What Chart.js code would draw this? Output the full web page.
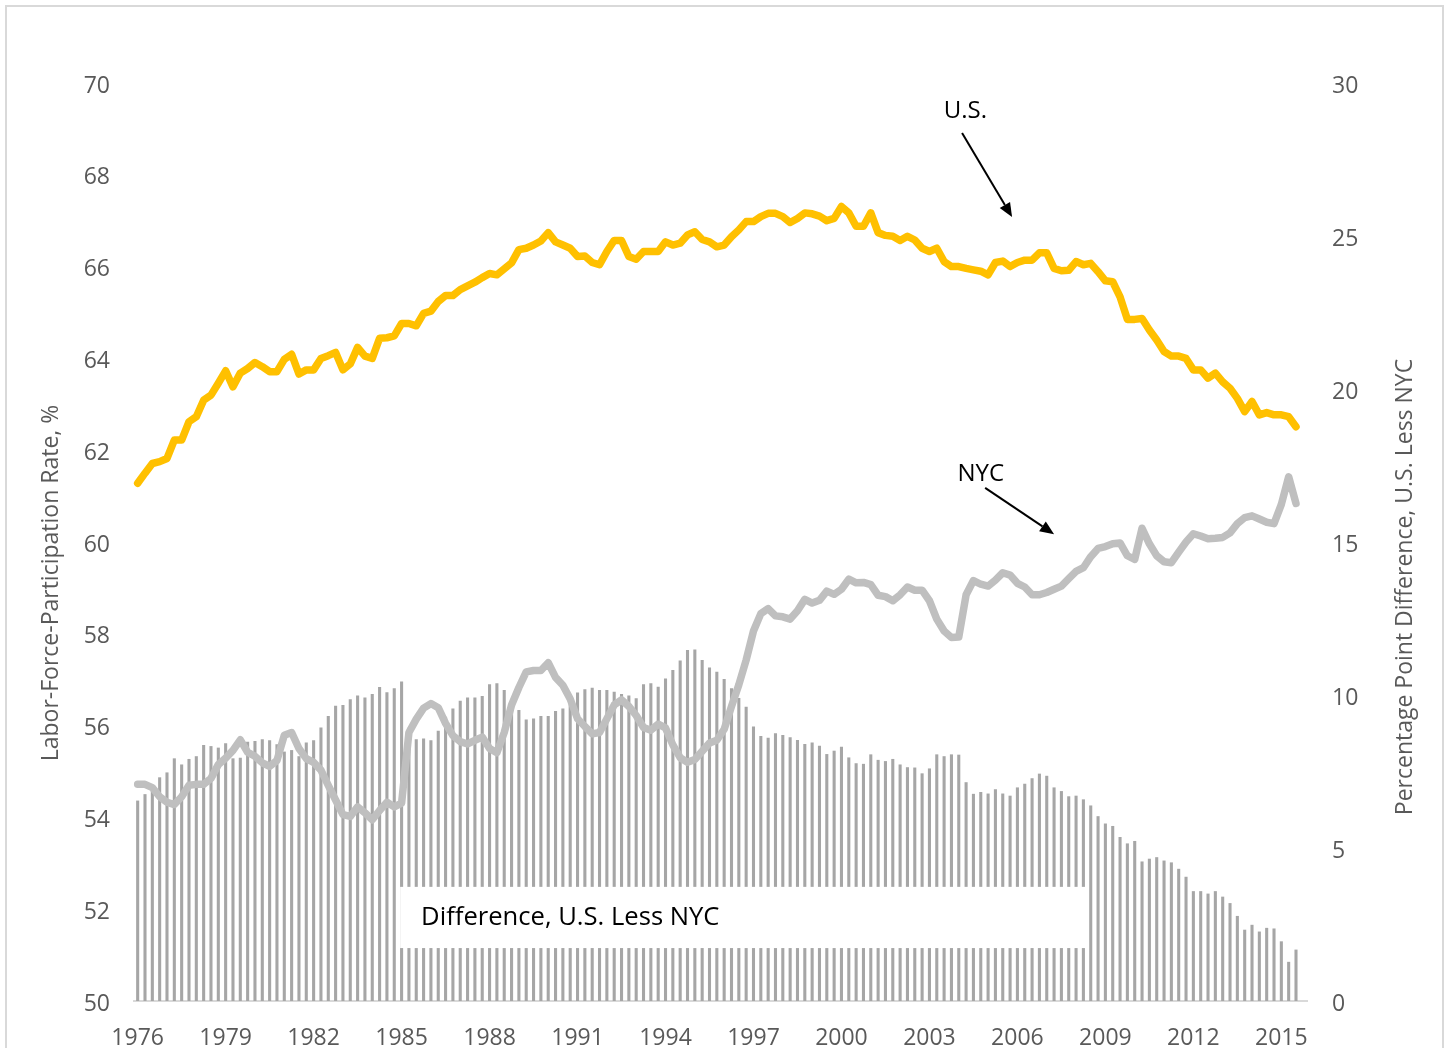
<!DOCTYPE html>
<html>
<head>
<meta charset="utf-8">
<script src="https://cdn.jsdelivr.net/npm/chart.js@4.4.0/dist/chart.umd.min.js"></script>
<style>
  html, body { margin: 0; padding: 0; background: #fff; }
  #frame { position: absolute; left: 5px; top: 5px; width: 1435px; height: 1100px; border: 2px solid #d9d9d9; }
  #chart { position: absolute; left: 0; top: 0; }
</style>
</head>
<body>
<div id="frame"></div>
<canvas id="chart" width="1449" height="1048"></canvas>
<script>
// quarterly, 1976Q1 .. 2015Q4 (the last quarter has no data yet)
const firstYear = 1976;
const quarterCount = 160;
const tickYears = ['1976', '1979', '1982', '1985', '1988', '1991', '1994', '1997',
  '2000', '2003', '2006', '2009', '2012', '2015'];

// labor-force-participation rate, %
const usRate = [
  61.28, 61.50, 61.71, 61.75, 61.82, 62.22, 62.22, 62.62, 62.73, 63.09,
  63.20, 63.46, 63.73, 63.38, 63.68, 63.78, 63.91, 63.82, 63.71, 63.71,
  63.98, 64.09, 63.66, 63.75, 63.75, 64.00, 64.06, 64.13, 63.75, 63.88,
  64.24, 64.05, 64.00, 64.44, 64.45, 64.49, 64.76, 64.76, 64.71, 64.98,
  65.03, 65.24, 65.37, 65.37, 65.50, 65.58, 65.66, 65.76, 65.85, 65.82,
  65.95, 66.08, 66.37, 66.40, 66.47, 66.56, 66.74, 66.54, 66.47, 66.40,
  66.22, 66.23, 66.09, 66.04, 66.33, 66.57, 66.57, 66.22, 66.16, 66.33,
  66.33, 66.33, 66.54, 66.47, 66.51, 66.69, 66.76, 66.59, 66.54, 66.43,
  66.47, 66.65, 66.80, 66.98, 66.98, 67.09, 67.16, 67.16, 67.09, 66.96,
  67.05, 67.17, 67.15, 67.10, 67.00, 67.05, 67.31, 67.17, 66.88, 66.88,
  67.17, 66.74, 66.68, 66.66, 66.57, 66.66, 66.58, 66.40, 66.33, 66.40,
  66.11, 66.00, 66.00, 65.96, 65.93, 65.90, 65.82, 66.09, 66.12, 66.00,
  66.09, 66.14, 66.14, 66.30, 66.30, 65.96, 65.91, 65.92, 66.11, 66.04,
  66.07, 65.89, 65.69, 65.67, 65.34, 64.85, 64.85, 64.87, 64.62, 64.40,
  64.15, 64.05, 64.05, 64.00, 63.75, 63.75, 63.57, 63.68, 63.49, 63.35,
  63.13, 62.84, 63.06, 62.77, 62.82, 62.77, 62.77, 62.73, 62.51
];
const nycRate = [
  54.72, 54.72, 54.65, 54.45, 54.33, 54.28, 54.45, 54.70, 54.72, 54.72,
  54.85, 55.15, 55.29, 55.46, 55.69, 55.42, 55.33, 55.19, 55.11, 55.24,
  55.79, 55.85, 55.50, 55.28, 55.20, 55.03, 54.70, 54.38, 54.06, 54.02,
  54.23, 54.10, 53.95, 54.15, 54.33, 54.23, 54.31, 55.85, 56.14, 56.38,
  56.48, 56.39, 56.05, 55.78, 55.65, 55.60, 55.68, 55.75, 55.50, 55.41,
  55.85, 56.45, 56.83, 57.17, 57.20, 57.20, 57.37, 57.05, 56.88, 56.58,
  56.15, 55.98, 55.82, 55.85, 56.15, 56.45, 56.56, 56.42, 56.22, 55.96,
  55.90, 56.03, 55.95, 55.58, 55.30, 55.20, 55.26, 55.44, 55.62, 55.68,
  55.92, 56.42, 56.89, 57.43, 58.06, 58.44, 58.55, 58.39, 58.37, 58.32,
  58.50, 58.75, 58.67, 58.73, 58.93, 58.86, 58.97, 59.19, 59.11, 59.12,
  59.07, 58.84, 58.81, 58.72, 58.85, 59.02, 58.95, 58.95, 58.72, 58.32,
  58.06, 57.92, 57.93, 58.85, 59.16, 59.08, 59.04, 59.17, 59.33, 59.28,
  59.10, 59.02, 58.85, 58.85, 58.90, 58.97, 59.04, 59.20, 59.36, 59.44,
  59.68, 59.86, 59.90, 59.96, 59.98, 59.70, 59.62, 60.30, 59.96, 59.70,
  59.57, 59.55, 59.78, 60.00, 60.18, 60.13, 60.07, 60.08, 60.10, 60.20,
  60.40, 60.53, 60.57, 60.50, 60.43, 60.40, 60.82, 61.42, 60.84
];
// percentage point difference, U.S. less NYC (right axis)
const usLessNyc = [
  6.55, 6.76, 7.04, 7.31, 7.47, 7.93, 7.73, 7.91, 8.00, 8.37,
  8.33, 8.28, 8.42, 7.93, 7.95, 8.47, 8.50, 8.55, 8.52, 8.39,
  8.15, 8.20, 8.00, 8.45, 8.52, 8.94, 9.31, 9.65, 9.67, 9.86,
  9.98, 9.92, 10.03, 10.26, 10.09, 10.22, 10.44, 8.93, 8.55, 8.58,
  8.52, 8.83, 9.29, 9.56, 9.81, 9.92, 9.92, 9.97, 10.35, 10.38,
  10.16, 9.55, 9.51, 9.20, 9.23, 9.31, 9.31, 9.48, 9.56, 9.75,
  10.08, 10.19, 10.24, 10.16, 10.16, 10.11, 10.03, 9.98, 9.89, 10.35,
  10.38, 10.27, 10.54, 10.82, 11.13, 11.47, 11.49, 11.14, 10.90, 10.76,
  10.52, 10.22, 9.90, 9.62, 8.97, 8.66, 8.60, 8.75, 8.69, 8.62,
  8.53, 8.40, 8.45, 8.34, 8.07, 8.18, 8.31, 7.96, 7.77, 7.75,
  8.06, 7.88, 7.84, 7.91, 7.73, 7.64, 7.63, 7.44, 7.60, 8.06,
  8.00, 8.06, 8.05, 7.15, 6.77, 6.83, 6.78, 6.92, 6.78, 6.71,
  6.98, 7.10, 7.28, 7.43, 7.36, 6.98, 6.86, 6.69, 6.71, 6.59,
  6.39, 6.04, 5.80, 5.72, 5.36, 5.15, 5.23, 4.56, 4.65, 4.70,
  4.59, 4.53, 4.32, 4.06, 3.59, 3.59, 3.51, 3.59, 3.41, 3.20,
  2.78, 2.33, 2.49, 2.27, 2.39, 2.37, 1.95, 1.28, 1.68
];

const quarters = [];
for (let i = 0; i < quarterCount; i++) {
  quarters.push((firstYear + Math.floor(i / 4)) + 'Q' + (i % 4 + 1));
}

const greyText = '#595959';
const tickFont = { family: 'Open Sans', size: 23 };

// annotation positions in data units (x = quarter index)
const notes = {
  box: { x0: 35.8, x1: 129.5, y0: 3.73, y1: 1.73, inset: 21, text: 'Difference, U.S. Less NYC' },
  arrows: [
    { text: 'U.S.', tx: 112.9, ty: 69.38, from: [112.45, 68.91], to: [119.27, 67.08] },
    { text: 'NYC', tx: 115.0, ty: 61.48, from: [115.6, 61.18], to: [125.0, 60.17] }
  ]
};

const axisTitles = {
  id: 'axisTitles',
  afterDraw(chart) {
    const ctx = chart.ctx;
    ctx.save();
    ctx.fillStyle = greyText;
    ctx.font = '23px "Open Sans"';
    ctx.textAlign = 'center';
    ctx.textBaseline = 'middle';
    [[51, 583, 'Labor-Force-Participation Rate, %'],
     [1405, 587, 'Percentage Point Difference, U.S. Less NYC']].forEach(t => {
      ctx.save();
      ctx.translate(t[0], t[1]);
      ctx.rotate(-Math.PI / 2);
      ctx.fillText(t[2], 0, 0);
      ctx.restore();
    });
    ctx.restore();
  }
};

const callouts = {
  id: 'callouts',
  afterDatasetsDraw(chart) {
    const ctx = chart.ctx;
    const x = chart.scales.x, y = chart.scales.y, y1 = chart.scales.y1;
    ctx.save();

    // white text box over the bars
    const b = notes.box;
    const bx0 = x.getPixelForValue(b.x0), bx1 = x.getPixelForValue(b.x1);
    const by0 = y1.getPixelForValue(b.y0), by1 = y1.getPixelForValue(b.y1);
    ctx.fillStyle = '#ffffff';
    ctx.fillRect(bx0, by0, bx1 - bx0, by1 - by0);
    ctx.fillStyle = '#000000';
    ctx.font = '25.6px "Open Sans"';
    ctx.textAlign = 'left';
    ctx.textBaseline = 'middle';
    ctx.fillText(b.text, bx0 + b.inset, (by0 + by1) / 2);

    // labels with arrows
    ctx.font = '24px "Open Sans"';
    ctx.textAlign = 'center';
    notes.arrows.forEach(a => {
      ctx.fillStyle = '#000000';
      ctx.fillText(a.text, x.getPixelForValue(a.tx), y.getPixelForValue(a.ty));
      const fx = x.getPixelForValue(a.from[0]), fy = y.getPixelForValue(a.from[1]);
      const tx = x.getPixelForValue(a.to[0]), ty = y.getPixelForValue(a.to[1]);
      const ang = Math.atan2(ty - fy, tx - fx);
      const head = 14, half = 6;
      const bxp = tx - head * Math.cos(ang), byp = ty - head * Math.sin(ang);
      ctx.strokeStyle = '#000000';
      ctx.lineWidth = 2;
      ctx.beginPath();
      ctx.moveTo(fx, fy);
      ctx.lineTo(bxp, byp);
      ctx.stroke();
      ctx.beginPath();
      ctx.moveTo(tx, ty);
      ctx.lineTo(bxp + half * Math.sin(ang), byp - half * Math.cos(ang));
      ctx.lineTo(bxp - half * Math.sin(ang), byp + half * Math.cos(ang));
      ctx.closePath();
      ctx.fill();
    });
    ctx.restore();
  }
};

new Chart(document.getElementById('chart'), {
  type: 'bar',
  data: {
    labels: quarters,
    datasets: [
      {
        type: 'line',
        label: 'U.S.',
        data: usRate,
        yAxisID: 'y',
        borderColor: '#ffc000',
        borderWidth: 7.5,
        pointRadius: 0,
        tension: 0,
        borderJoinStyle: 'round',
        borderCapStyle: 'round',
        order: 1
      },
      {
        type: 'line',
        label: 'NYC',
        data: nycRate,
        yAxisID: 'y',
        borderColor: '#bfbfbf',
        borderWidth: 7.5,
        pointRadius: 0,
        tension: 0,
        borderJoinStyle: 'round',
        borderCapStyle: 'round',
        order: 2
      },
      {
        label: 'Difference, U.S. Less NYC',
        data: usLessNyc,
        yAxisID: 'y1',
        backgroundColor: '#a6a6a6',
        barPercentage: 0.42,
        categoryPercentage: 1,
        order: 3
      }
    ]
  },
  options: {
    responsive: false,
    animation: false,
    devicePixelRatio: 1,
    layout: { padding: { top: 83, right: 0, bottom: 0, left: 0 } },
    plugins: {
      legend: { display: false },
      tooltip: { enabled: false }
    },
    scales: {
      x: {
        offset: true,
        grid: { display: false },
        border: { display: true, color: '#d9d9d9', width: 2 },
        ticks: {
          autoSkip: false,
          maxRotation: 0,
          padding: 16,
          color: greyText,
          font: tickFont,
          callback: function(val, idx) {
            const q = quarters[idx];
            const yr = q.slice(0, 4);
            return q.endsWith('Q1') && tickYears.includes(yr) ? yr : '';
          }
        },
        afterFit: s => { s.height = 47; }
      },
      y: {
        position: 'left',
        min: 50,
        max: 70,
        grid: { display: false },
        border: { display: false },
        ticks: { stepSize: 2, padding: 16, labelOffset: 3, color: greyText, font: tickFont },
        afterFit: s => { s.width = 134; }
      },
      y1: {
        position: 'right',
        min: 0,
        max: 30,
        grid: { display: false },
        border: { display: false },
        ticks: { stepSize: 5, padding: 17, labelOffset: 3, color: greyText, font: tickFont },
        afterFit: s => { s.width = 142; }
      }
    }
  },
  plugins: [axisTitles, callouts]
});
</script>
</body>
</html>
